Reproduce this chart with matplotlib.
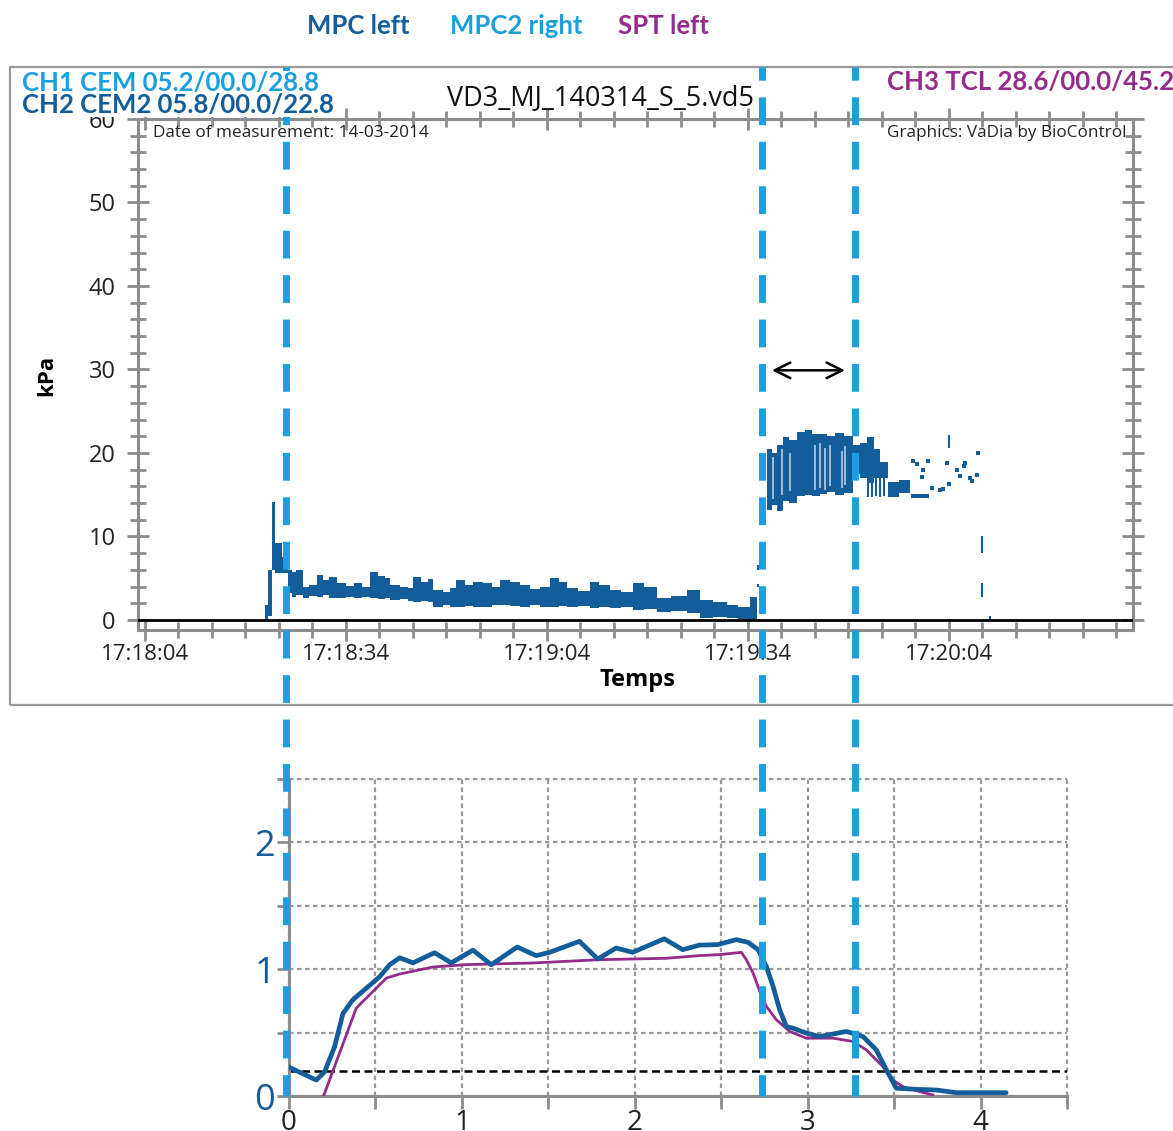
import matplotlib.pyplot as plt
import matplotlib.transforms as mtransforms
from matplotlib.lines import Line2D
from matplotlib.patches import Rectangle
from matplotlib.ticker import MultipleLocator, FixedLocator, FuncFormatter

plt.rcParams['font.family'] = ['Open Sans', 'DejaVu Sans']

# colours
dark_blue = '#135d9b'
light_blue = '#1b9fde'
purple = '#952b8a'
grey = '#8c8c8c'

# ---- top panel data (seconds after 17:18:04, kPa) ----
time_ticks = [0, 30, 60, 90, 120]
time_labels = ['17:18:04', '17:18:34', '17:19:04', '17:19:34', '17:20:04']

# low pressure phase, envelope of the noisy trace
t_low = [17.9, 18.4, 18.9, 19.4, 20.4, 21.3, 22.0, 22.6, 23.6, 24.5, 25.7, 26.6, 27.5,
         28.7, 30.0, 31.2, 32.4, 33.6, 34.8, 35.8, 36.6, 38.0, 39.2, 40.0, 41.2, 42.2,
         43.0, 44.5, 45.6, 46.5, 47.8, 49.0, 50.5, 51.8, 53.0, 54.5, 56.0, 57.5, 59.0,
         60.4, 61.8, 63.0, 64.6, 66.4, 67.8, 69.4, 71.0, 72.8, 74.5, 76.4, 78.5, 80.9,
         82.8, 84.8, 86.9, 88.5, 90.3, 91.3]
hi_low = [1.8, 6.0, 14.1, 9.2, 7.5, 6.0, 5.8, 6.0, 4.0, 4.2, 5.4, 4.8, 5.2,
          4.4, 4.1, 4.4, 3.9, 5.7, 5.3, 5.0, 4.2, 4.0, 3.8, 5.2, 4.6, 4.9,
          3.6, 3.4, 3.8, 4.8, 4.2, 4.6, 4.4, 3.9, 4.8, 4.5, 4.2, 3.7, 4.0,
          5.0, 4.6, 3.8, 3.5, 4.6, 4.2, 3.6, 3.3, 4.4, 3.9, 2.6, 2.9, 3.6,
          2.4, 2.2, 1.8, 1.6, 2.8, 2.8]
lo_low = [0.0, 0.5, 6.0, 5.6, 5.6, 3.2, 2.8, 3.0, 2.6, 2.9, 2.8, 3.0, 2.6,
          2.6, 2.8, 2.6, 2.7, 2.6, 2.5, 2.6, 2.4, 2.5, 2.3, 2.2, 2.3, 2.1,
          1.6, 1.8, 1.6, 1.6, 1.7, 1.6, 1.6, 1.8, 1.8, 1.7, 1.6, 1.8, 1.6,
          1.6, 1.7, 1.6, 1.7, 1.4, 1.5, 1.4, 1.5, 1.2, 1.3, 1.0, 1.1, 0.8,
          0.2, 0.3, 0.2, 0.1, 0.0, 0.0]

# high pressure phase
t_high = [92.8, 93.6, 94.4, 95.2, 96.2, 97.3, 98.5, 99.6, 100.7, 101.8, 103.0, 104.4,
          105.7, 106.8, 107.8, 108.8, 109.7, 110.9, 112.5, 114.2]
hi_high = [20.5, 20.0, 21.0, 21.9, 21.5, 22.5, 22.7, 22.3, 22.3, 22.0, 22.4, 22.0,
           20.9, 21.2, 21.9, 20.5, 18.9, 16.5, 16.8, 16.8]
lo_high = [13.2, 13.8, 13.1, 14.3, 14.0, 14.9, 15.0, 14.8, 15.1, 15.3, 15.0, 15.2,
           17.5, 17.0, 16.4, 17.0, 17.0, 14.7, 15.2, 15.2]

# pale streaks inside the high block
streak_t = [93.7, 95.1, 96.3, 100.0, 100.7, 101.5, 102.2, 104.0, 104.5]
streak_lo = [14.5, 15.0, 15.5, 15.6, 15.8, 15.6, 16.0, 15.8, 16.2]
streak_hi = [19.5, 20.5, 20.0, 21.0, 21.2, 20.6, 21.0, 20.2, 20.8]

# scattered samples at the end of the record
dots_t = [114.7, 115.2, 116.0, 116.2, 116.9, 114.7, 115.2, 115.7, 116.2, 116.7, 117.5,
          118.7, 119.2, 119.7, 120.1, 121.2, 121.6, 122.2, 122.4, 123.1, 123.4, 124.2, 124.3]
dots_p = [19.1, 18.7, 17.1, 18.0, 19.1, 14.9, 14.9, 14.9, 14.9, 14.9, 15.8,
          15.6, 15.7, 18.8, 16.3, 18.0, 17.2, 18.5, 18.8, 17.0, 16.6, 17.4, 20.0]
seg_t = [91.5, 91.5, 108.0, 108.6, 109.2, 109.8, 110.4, 120.1, 124.9, 124.9, 126.1]
seg_lo = [4.0, 6.0, 14.7, 14.7, 14.8, 14.7, 14.8, 20.6, 8.0, 2.8, 0.0]
seg_hi = [4.3, 6.6, 17.0, 17.2, 17.0, 17.1, 17.0, 22.1, 10.0, 4.4, 0.5]

# marker lines (seconds) and arrow
marker_t = [21.0, 92.1, 106.0]
arrow_t = [93.6, 104.5]
arrow_p = 29.9

# ---- bottom panel data ----
mpc_x = [0, 0.158, 0.206, 0.264, 0.312, 0.37, 0.447, 0.524, 0.582, 0.64, 0.717, 0.842,
         0.938, 1.064, 1.17, 1.32, 1.43, 1.507, 1.68, 1.786, 1.892, 1.988, 2.17, 2.277,
         2.374, 2.48, 2.588, 2.655, 2.713, 2.761, 2.80, 2.838, 2.877, 2.915, 2.992, 3.069,
         3.224, 3.32, 3.397, 3.455, 3.513, 3.628, 3.744, 3.86, 4.013, 4.148]
mpc_y = [0.227, 0.126, 0.19, 0.39, 0.65, 0.76, 0.85, 0.94, 1.035, 1.09, 1.05, 1.13,
         1.05, 1.15, 1.035, 1.175, 1.107, 1.133, 1.22, 1.08, 1.167, 1.133, 1.24, 1.154,
         1.19, 1.194, 1.233, 1.212, 1.154, 1.022, 0.864, 0.68, 0.548, 0.535, 0.496, 0.469,
         0.509, 0.469, 0.364, 0.206, 0.061, 0.053, 0.047, 0.026, 0.026, 0.026]
spt_x = [0.2, 0.389, 0.563, 0.64, 0.832, 1.025, 1.41, 1.796, 2.18, 2.374, 2.491, 2.617,
         2.645, 2.684, 2.723, 2.761, 2.819, 2.896, 2.992, 3.146, 3.262, 3.339, 3.435,
         3.493, 3.551, 3.628, 3.724]
spt_y = [0.0, 0.693, 0.93, 0.962, 1.017, 1.036, 1.049, 1.075, 1.086, 1.107, 1.115, 1.133,
         1.075, 0.97, 0.825, 0.707, 0.601, 0.509, 0.456, 0.456, 0.43, 0.364, 0.232,
         0.126, 0.074, 0.042, 0.008]
threshold = 0.2

W, H = 1173, 1131
fig = plt.figure(figsize=(W / 100, H / 100), dpi=100)


def fx(px):
    return px / W


def fy(py):
    return 1 - py / H


def whole_only(v, pos):
    # label only the whole numbers
    if abs(v - round(v)) < 1e-6:
        return '%d' % round(v)
    return ''


# outer frame of the top panel
fig.add_artist(Rectangle((fx(10), fy(705)), 1.0, fy(67) - fy(705), transform=fig.transFigure,
                         fill=False, edgecolor='#9a9a9a', lw=1.6, zorder=1))

# ---------------- top panel ----------------
ax = fig.add_axes([fx(138), fy(630), fx(1133) - fx(138), fy(119) - fy(630)])
ax.fill_between(t_low, lo_low, hi_low, step='post', color=dark_blue, lw=0)
ax.fill_between(t_high, lo_high, hi_high, step='post', color=dark_blue, lw=0)
ax.vlines(streak_t, streak_lo, streak_hi, color='#b9cde6', lw=1.2)
ax.scatter(dots_t, dots_p, marker='s', s=8, color=dark_blue, lw=0)
ax.vlines(seg_t, seg_lo, seg_hi, color=dark_blue, lw=1.5)
ax.axhline(0, color='black', lw=2, zorder=3)
ax.annotate('', xy=(arrow_t[0], arrow_p), xytext=(arrow_t[1], arrow_p),
            arrowprops=dict(arrowstyle='<->', color='black', lw=1.8, mutation_scale=28,
                            shrinkA=0, shrinkB=0))

ax.set_xlim(-1.04, 147.5)
ax.set_ylim(-1.2, 60)
ax.xaxis.set_major_locator(FixedLocator(time_ticks))
ax.set_xticklabels(time_labels)
ax.xaxis.set_minor_locator(MultipleLocator(5))
ax.yaxis.set_major_locator(MultipleLocator(10))
ax.yaxis.set_minor_locator(MultipleLocator(2))
for s in ax.spines.values():
    s.set_color(grey)
    s.set_linewidth(2.2)
ax.tick_params(which='both', direction='inout', color=grey, width=2,
               top=True, right=True, labelcolor='#222222')
ax.tick_params(which='major', length=16)
ax.tick_params(which='minor', length=12)
ax.tick_params(axis='y', labelsize=17, pad=8)
ax.tick_params(axis='x', labelsize=16, pad=2)

fig.text(fx(47), fy(375), 'kPa', rotation=90, ha='center', va='center',
         fontsize=16, fontweight='bold')
fig.text(fx(637), fy(680), 'Temps', ha='center', va='center', fontsize=17, fontweight='bold')
fig.text(fx(153), fy(137), 'Date of measurement: 14-03-2014', fontsize=12.4, va='baseline',
         color='#222222')
fig.text(fx(887), fy(137), 'Graphics: VaDia by BioControl', fontsize=12.3, va='baseline',
         color='#222222')
fig.text(fx(447), fy(105), 'VD3_MJ_140314_S_5.vd5', fontsize=19.5, va='baseline', color='#111111')

head = dict(fontsize=18.5, fontweight='bold', family=['Lato', 'DejaVu Sans'], va='baseline')
fig.text(fx(22), fy(91), 'CH1 CEM 05.2/00.0/28.8', color=light_blue, zorder=5,
         bbox=dict(facecolor='white', edgecolor='none', pad=0), **head)
fig.text(fx(22), fy(113), 'CH2 CEM2 05.8/00.0/22.8', color=dark_blue, zorder=5,
         bbox=dict(facecolor='white', edgecolor='none', pad=0), **head)
fig.text(fx(887), fy(90), 'CH3 TCL 28.6/00.0/45.2', color=purple, **head)
fig.text(fx(307), fy(34), 'MPC left', color=dark_blue, **head)
fig.text(fx(450), fy(34), 'MPC2 right', color=light_blue, **head)
fig.text(fx(618), fy(34), 'SPT left', color=purple, **head)

# ---------------- bottom panel ----------------
bx = fig.add_axes([fx(289), fy(1096), fx(1067) - fx(289), fy(779) - fy(1096)])
bx.plot(spt_x, spt_y, color=purple, lw=2, solid_joinstyle='round', zorder=3)
bx.plot(mpc_x, mpc_y, color=dark_blue, lw=3.4, solid_joinstyle='round',
        solid_capstyle='round', zorder=4)
bx.axhline(threshold, color='black', lw=1.8, linestyle=(0, (3.2, 1.8)), zorder=2)
bx.set_xlim(0, 4.5)
bx.set_ylim(0, 2.5)
bx.xaxis.set_major_locator(MultipleLocator(0.5))
bx.yaxis.set_major_locator(MultipleLocator(0.5))
bx.xaxis.set_major_formatter(FuncFormatter(whole_only))
bx.yaxis.set_major_formatter(FuncFormatter(whole_only))
bx.grid(True, color='#999999', lw=1.6, linestyle=(0, (2, 1.6)))
for gl in bx.get_xgridlines() + bx.get_ygridlines():
    gl.set_clip_on(False)
for side in ['top', 'right']:
    bx.spines[side].set_visible(False)
for side in ['left', 'bottom']:
    bx.spines[side].set_color(grey)
    bx.spines[side].set_linewidth(2.2)
bx.tick_params(direction='out', color=grey, width=2, length=9)
bx.tick_params(axis='y', labelsize=26, labelcolor=dark_blue, pad=1)
bx.tick_params(axis='x', labelsize=20, labelcolor='#222222', pad=0, length=9)

# marker lines crossing both panels
trans = mtransforms.blended_transform_factory(ax.transData, fig.transFigure)
for t in marker_t:
    fig.add_artist(Line2D([t, t], [fy(67), fy(1096)], transform=trans, color=light_blue,
                          lw=5, linestyle=(2.1, (4.0, 2.4)), zorder=2))

fig.savefig('out.png', dpi=100)
